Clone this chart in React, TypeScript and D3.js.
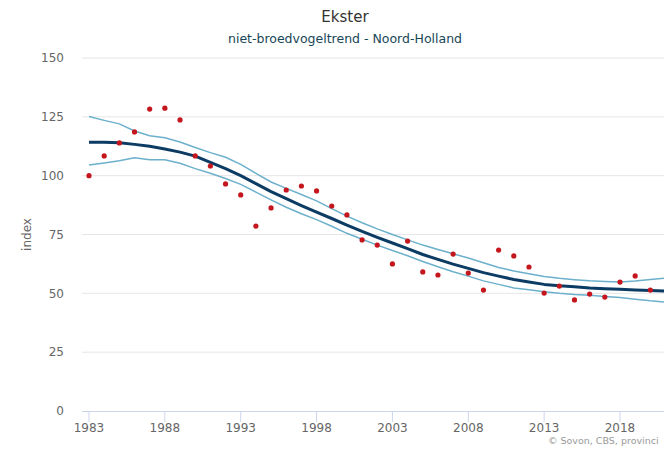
import React from "react";
import * as d3 from "d3";

const years = d3.range(1983, 2022);
const observed: [number, number][] = [
  [1983, 100], [1984, 108.4], [1985, 113.9], [1986, 118.6], [1987, 128.3], [1988, 128.7],
  [1989, 123.7], [1990, 108.4], [1991, 104.1], [1992, 96.5], [1993, 91.8], [1994, 78.6],
  [1995, 86.3], [1996, 93.9], [1997, 95.6], [1998, 93.5], [1999, 87.1], [2000, 83.3],
  [2001, 72.7], [2002, 70.5], [2003, 62.5], [2004, 72.2], [2005, 59.1], [2006, 57.8],
  [2007, 66.7], [2008, 58.6], [2009, 51.4], [2010, 68.4], [2011, 65.9], [2012, 61.2],
  [2013, 50.1], [2014, 53.1], [2015, 47.2], [2016, 49.7], [2017, 48.4], [2018, 54.8],
  [2019, 57.4], [2020, 51.4],
];
const trend = [
  114.2, 114.2, 114.0, 113.3, 112.5, 111.3, 110.0, 108.3, 105.6, 103.0,
  100.0, 96.6, 93.2, 90.2, 87.3, 84.5, 81.8, 79.0, 76.3, 73.8,
  71.4, 69.0, 66.5, 64.4, 62.4, 60.6, 58.8, 57.3, 55.9, 54.8,
  53.8, 53.2, 52.8, 52.3, 52.0, 51.7, 51.4, 51.2, 51.0,
];
const upper = [
  125.1, 123.5, 122.0, 119.0, 117.0, 116.1, 114.3, 112.0, 109.8, 107.8,
  104.8, 101.0, 97.3, 94.6, 92.0, 89.3, 86.0, 82.8, 80.0, 77.4,
  75.0, 72.7, 70.5, 68.6, 66.8, 65.0, 63.0, 61.0, 59.5, 58.3,
  57.2, 56.4, 55.8, 55.3, 55.0, 54.8, 55.2, 55.9, 56.5,
];
const lower = [
  104.5, 105.4, 106.3, 107.6, 106.8, 106.8, 105.3, 103.0, 101.0, 98.8,
  96.3, 93.0, 89.7, 86.6, 83.8, 81.3, 78.5, 75.5, 73.0, 70.5,
  68.2, 66.0, 63.5, 61.3, 59.2, 57.3, 55.3, 53.8, 52.3, 51.5,
  50.7, 50.0, 49.5, 49.2, 48.7, 48.2, 47.5, 46.8, 46.3,
];
const yTicks = [0, 25, 50, 75, 100, 125, 150];
const xTicks = [1983, 1988, 1993, 1998, 2003, 2008, 2013, 2018];
const title = "Ekster";
const subtitle = "niet-broedvogeltrend - Noord-Holland";
const yTitle = "index";
const credits = "© Sovon, CBS, provinci";

const W = 664;
const H = 449;
const FONT = "'DejaVu Sans', Verdana, sans-serif";

export default function App() {
  const x = d3.scaleLinear().domain([1983, 2018]).range([89, 620]);
  const y = d3.scaleLinear().domain([0, 150]).range([411, 58]);
  const plotLeft = 82;
  const plotRight = W + 10;

  const line = d3
    .line<number>()
    .x((_, i) => x(years[i]))
    .y((d) => y(d));

  return (
    <svg
      width={W}
      height={H}
      style={{ position: "absolute", left: 0, top: 0, background: "#fff" }}
      fontFamily={FONT}
    >
      <rect x={0} y={0} width={W} height={H} fill="#fff" />
      <text x={345} y={22} textAnchor="middle" fontSize={15} fill="#333">
        {title}
      </text>
      <text x={345} y={43} textAnchor="middle" fontSize={12.5} fill="#174656">
        {subtitle}
      </text>

      {yTicks.map((t) =>
        t === 0 ? null : (
          <line key={"g" + t} x1={plotLeft} x2={plotRight} y1={y(t)} y2={y(t)} stroke="#e6e6e6" strokeWidth={1} />
        )
      )}
      {yTicks.map((t) => (
        <text key={"yl" + t} x={64} y={y(t)} dy="0.35em" textAnchor="end" fontSize={12} fill="#666">
          {t}
        </text>
      ))}
      <text
        transform={`translate(31,${(y(0) + y(150)) / 2}) rotate(-90)`}
        textAnchor="middle"
        fontSize={12}
        fill="#666"
      >
        {yTitle}
      </text>

      <line x1={plotLeft} x2={plotRight} y1={y(0) + 0.5} y2={y(0) + 0.5} stroke="#ccd6eb" strokeWidth={1} />
      {xTicks.map((t) => (
        <g key={"xt" + t}>
          <line x1={x(t)} x2={x(t)} y1={y(0)} y2={y(0) + 11} stroke="#ccd6eb" strokeWidth={1} />
          <text x={x(t)} y={y(0) + 17} dy="0.35em" textAnchor="middle" fontSize={12} fill="#666">
            {t}
          </text>
        </g>
      ))}

      <path d={line(upper) || ""} fill="none" stroke="#6cb0cc" strokeWidth={1.5} />
      <path d={line(lower) || ""} fill="none" stroke="#6cb0cc" strokeWidth={1.5} />
      <path d={line(trend) || ""} fill="none" stroke="#0c3b63" strokeWidth={3} strokeLinejoin="round" />

      {observed.map(([yr, v]) => (
        <circle key={"p" + yr} cx={x(yr)} cy={y(v)} r={2.6} fill="#c4161c" />
      ))}

      <text x={548} y={444} fontSize={9.5} fill="#999">
        {credits}
      </text>
    </svg>
  );
}
